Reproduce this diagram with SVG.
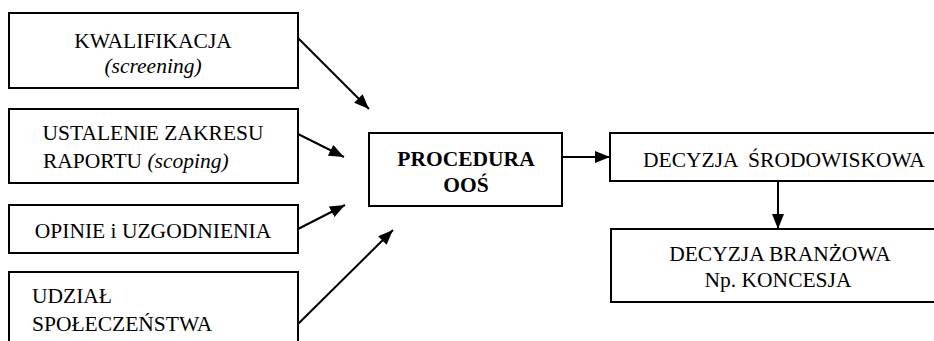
<svg xmlns="http://www.w3.org/2000/svg" width="934" height="341" viewBox="0 0 934 341">
<style>
.box{fill:#fff;stroke:#000;stroke-width:2}
.t{font-family:'Liberation Serif','Times New Roman',Times,'DejaVu Serif',serif;font-size:21.5px;fill:#000}
.c{text-anchor:middle}
.b{font-weight:bold}
.i{font-style:italic}
.ln{stroke:#000;stroke-width:2;fill:none}
</style>
<defs>
<marker id="ah" markerUnits="userSpaceOnUse" markerWidth="16" markerHeight="12" refX="15" refY="6" orient="auto">
<path d="M0,0 L15,6 L0,12 z" fill="#000"/>
</marker>
</defs>
<g id="n1">
<rect class="box" x="9" y="13" width="289" height="75"/>
<text class="t c" x="153" y="48">KWALIFIKACJA</text>
<text class="t c i" x="153" y="73">(screening)</text>
</g>
<g id="n2">
<rect class="box" x="9" y="109" width="289" height="74"/>
<text class="t c" x="153" y="140">USTALENIE ZAKRESU</text>
<text class="t" x="43" y="168">RAPORTU <tspan class="i">(scoping)</tspan></text>
</g>
<g id="n3">
<rect class="box" x="9" y="205" width="289" height="48"/>
<text class="t c" x="153" y="238">OPINIE i UZGODNIENIA</text>
</g>
<g id="n4">
<rect class="box" x="9" y="272" width="289" height="90"/>
<text class="t" x="32" y="303">UDZIAŁ</text>
<text class="t" x="32" y="331">SPOŁECZEŃSTWA</text>
</g>
<g id="n5">
<rect class="box" x="369" y="133" width="193" height="73"/>
<text class="t c b" x="466" y="166">PROCEDURA</text>
<text class="t c b" x="466" y="192">OOŚ</text>
</g>
<g id="n6">
<rect class="box" x="610" y="133" width="340" height="48"/>
<text class="t" x="643" y="167" xml:space="preserve">DECYZJA  ŚRODOWISKOWA</text>
</g>
<g id="n7">
<rect class="box" x="611" y="229" width="340" height="73"/>
<text class="t c" x="780" y="261">DECYZJA BRANŻOWA</text>
<text class="t c" x="778" y="287">Np. KONCESJA</text>
</g>
<g id="connectors">
<line class="ln" x1="298" y1="38" x2="369" y2="109" marker-end="url(#ah)"/>
<line class="ln" x1="298" y1="134" x2="344" y2="157" marker-end="url(#ah)"/>
<line class="ln" x1="298" y1="229" x2="345" y2="205" marker-end="url(#ah)"/>
<line class="ln" x1="298" y1="324" x2="393" y2="230" marker-end="url(#ah)"/>
<line class="ln" x1="562" y1="157" x2="610" y2="157" marker-end="url(#ah)"/>
<line class="ln" x1="778" y1="181" x2="778" y2="229" marker-end="url(#ah)"/>
</g>
</svg>
